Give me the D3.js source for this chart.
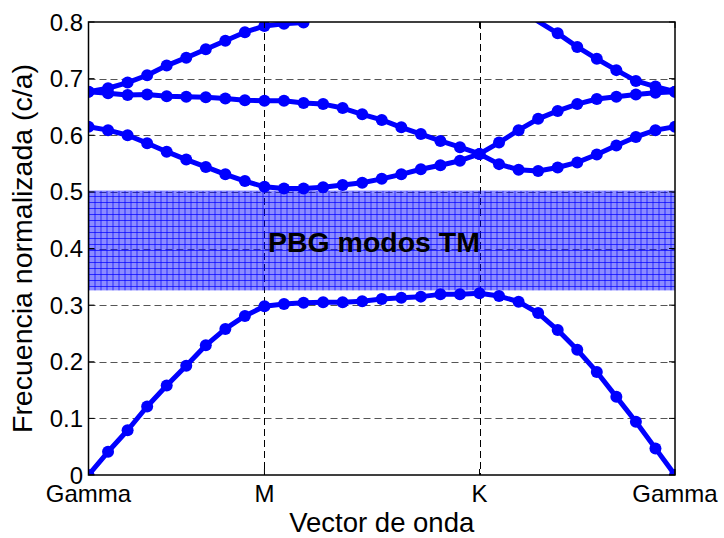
<!DOCTYPE html>
<html>
<head>
<meta charset="utf-8">
<script src="https://cdn.jsdelivr.net/npm/d3@7"></script>
<style>
  html, body { margin: 0; padding: 0; background: #fff; }
  svg { display: block; font-family: "Liberation Sans", Arial, Helvetica, sans-serif; }
</style>
</head>
<body>
<svg id="chart" width="724" height="538"></svg>
<script>
// ---- data ----
const kIndex = [0,1,2,3,4,5,6,7,8,9,10,11,12,13,14,15,16,17,18,19,20,21,22,23,24,25,26,27,28,29,30];
const tickPositions = [0, 9, 20, 30];
const tickLabels = ["Gamma", "M", "K", "Gamma"];
const yTicks = [0, 0.1, 0.2, 0.3, 0.4, 0.5, 0.6, 0.7, 0.8];
const yTickLabels = ["0", "0.1", "0.2", "0.3", "0.4", "0.5", "0.6", "0.7", "0.8"];

const band1 = [0, 0.041, 0.079, 0.121, 0.158, 0.193, 0.229, 0.258, 0.281, 0.298, 0.302, 0.304, 0.305, 0.305, 0.307, 0.311, 0.313, 0.315, 0.319, 0.319, 0.321, 0.316, 0.306, 0.286, 0.256, 0.221, 0.182, 0.138, 0.094, 0.047, 0];
const band2 = [0.615, 0.609, 0.600, 0.586, 0.571, 0.557, 0.544, 0.531, 0.519, 0.509, 0.506, 0.506, 0.508, 0.512, 0.516, 0.523, 0.531, 0.540, 0.547, 0.555, 0.567, 0.549, 0.539, 0.537, 0.543, 0.552, 0.566, 0.582, 0.597, 0.609, 0.615];
const band3 = [0.677, 0.674, 0.671, 0.672, 0.669, 0.668, 0.667, 0.665, 0.662, 0.661, 0.661, 0.657, 0.655, 0.648, 0.637, 0.627, 0.614, 0.602, 0.590, 0.579, 0.567, 0.587, 0.609, 0.629, 0.643, 0.655, 0.664, 0.668, 0.672, 0.675, 0.677];
const band4 = [0.677, 0.683, 0.693, 0.706, 0.723, 0.737, 0.752, 0.767, 0.782, 0.793, 0.797, 0.799, 0.830, null, null, null, null, null, null, null, null, null, 0.830, 0.801, 0.780, 0.756, 0.735, 0.715, 0.696, 0.686, 0.677];
const bands = [band1, band2, band3, band4];

const gapLow = 0.326;
const gapHigh = 0.502;
const gapLabel = "PBG modos TM";
const xTitle = "Vector de onda";
const yTitle = "Frecuencia normalizada (c/a)";

// ---- layout ----
const L = 88.5, R = 675, T = 22, B = 475;
const svg = d3.select("#chart");
const x = d3.scaleLinear().domain([0, 30]).range([L, R]);
const y = d3.scaleLinear().domain([0, 0.8]).range([B, T]);

const defs = svg.append("defs");
defs.append("clipPath").attr("id", "plotclip")
  .append("rect").attr("x", L).attr("y", T).attr("width", R - L).attr("height", B - T);

const pat = defs.append("pattern").attr("id", "gridfill")
  .attr("patternUnits", "userSpaceOnUse")
  .attr("x", L).attr("y", T).attr("width", 6).attr("height", 6);
pat.append("rect").attr("width", 6).attr("height", 6).attr("fill", "rgba(0,0,255,0.45)");
pat.append("path").attr("d", "M0.5,0V6M0,0.5H6")
  .attr("stroke", "rgba(0,0,255,0.7)").attr("stroke-width", 1).attr("fill", "none");

// gridlines
const grid = svg.append("g");
grid.selectAll("line.hg").data(yTicks.slice(1, -1)).enter().append("line")
  .attr("x1", L).attr("x2", R)
  .attr("y1", d => Math.round(y(d)) + 0.5).attr("y2", d => Math.round(y(d)) + 0.5)
  .attr("stroke", "#555").attr("stroke-width", 1.2).attr("stroke-dasharray", "7,4");
grid.selectAll("line.vg").data(tickPositions.slice(1, -1)).enter().append("line")
  .attr("y1", T).attr("y2", B)
  .attr("x1", d => Math.round(x(d)) + 0.5).attr("x2", d => Math.round(x(d)) + 0.5)
  .attr("stroke", "#000").attr("stroke-width", 1).attr("stroke-dasharray", "7,4");

// gap region
svg.append("rect")
  .attr("x", L).attr("width", R - L)
  .attr("y", y(gapHigh)).attr("height", y(gapLow) - y(gapHigh))
  .attr("fill", "url(#gridfill)");

// gap label
svg.append("text")
  .attr("x", 268).attr("y", 252)
  .attr("font-size", 28).attr("font-weight", "bold")
  .attr("textLength", 212).attr("lengthAdjust", "spacingAndGlyphs")
  .attr("fill", "#000")
  .text(gapLabel);

// bands
const plot = svg.append("g").attr("clip-path", "url(#plotclip)");
const line = d3.line()
  .defined(d => d[1] !== null)
  .x(d => x(d[0])).y(d => y(d[1]));
bands.forEach(b => {
  const pts = kIndex.map((k, i) => [k, b[i]]);
  plot.append("path").datum(pts)
    .attr("d", line)
    .attr("fill", "none").attr("stroke", "#0000ff")
    .attr("stroke-width", 5).attr("stroke-linejoin", "round");
  plot.selectAll(null).data(pts.filter(p => p[1] !== null && p[1] <= 0.8)).enter()
    .append("circle")
    .attr("cx", d => x(d[0])).attr("cy", d => y(d[1]))
    .attr("r", 6).attr("fill", "#0000ff");
});

// axes frame
svg.append("rect").attr("x", L).attr("y", T).attr("width", R - L).attr("height", B - T)
  .attr("fill", "none").attr("stroke", "#000").attr("stroke-width", 1.5);

// ticks (inward)
const tk = svg.append("g").attr("stroke", "#000").attr("stroke-width", 1);
yTicks.forEach(v => {
  tk.append("line").attr("x1", L).attr("x2", L + 6).attr("y1", y(v)).attr("y2", y(v));
  tk.append("line").attr("x1", R - 6).attr("x2", R).attr("y1", y(v)).attr("y2", y(v));
});
tickPositions.forEach(v => {
  tk.append("line").attr("y1", B).attr("y2", B - 6).attr("x1", x(v)).attr("x2", x(v));
  tk.append("line").attr("y1", T).attr("y2", T + 6).attr("x1", x(v)).attr("x2", x(v));
});

// tick labels
svg.selectAll("text.yt").data(yTicks).enter().append("text")
  .attr("x", 83).attr("y", d => y(d) + 8.5)
  .attr("text-anchor", "end").attr("font-size", 24).attr("fill", "#000")
  .text((d, i) => yTickLabels[i]);
svg.selectAll("text.xt").data(tickPositions).enter().append("text")
  .attr("x", d => x(d)).attr("y", 502)
  .attr("text-anchor", "middle").attr("font-size", 24).attr("fill", "#000")
  .text((d, i) => tickLabels[i]);

// axis titles
svg.append("text")
  .attr("x", (L + R) / 2).attr("y", 531.5)
  .attr("text-anchor", "middle").attr("font-size", 27.5).attr("fill", "#000")
  .text(xTitle);
svg.append("text")
  .attr("transform", `translate(31.5, ${(T + B) / 2}) rotate(-90)`)
  .attr("text-anchor", "middle").attr("font-size", 28.5).attr("fill", "#000")
  .text(yTitle);
</script>
</body>
</html>
